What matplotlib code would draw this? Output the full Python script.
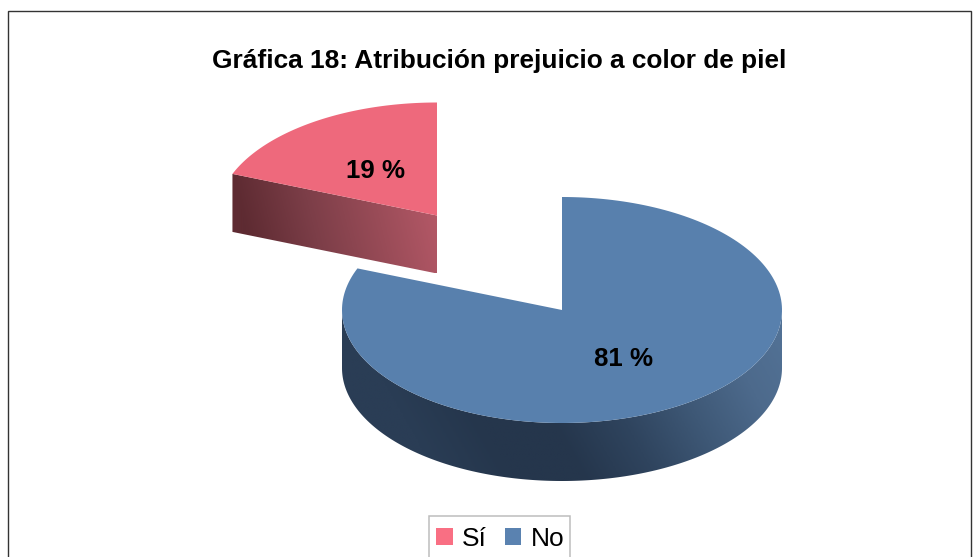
import numpy as np
from matplotlib import pyplot as plt
from matplotlib.colors import LinearSegmentedColormap
from matplotlib.patches import Polygon, Rectangle

plt.rcParams['font.family'] = ['Liberation Sans', 'DejaVu Sans']

categories = ['Sí', 'No']
values = [19, 81]
title = 'Gráfica 18: Atribución prejuicio a color de piel'

# layout in pixels of the picture
W, H = 979, 557
RX, RY, DEPTH = 220, 113, 58
centers = {'Sí': (437, 215.5), 'No': (562, 310)}
top_colors = {'Sí': '#ee697c', 'No': '#5880ad'}
legend_colors = {'Sí': '#f96f83', 'No': '#5a82b0'}

fig = plt.figure(figsize=(W / 100, H / 100), dpi=100)
ax = fig.add_axes([0, 0, 1, 1])
ax.set_xlim(0, W)
ax.set_ylim(H, 0)
ax.axis('off')


# angle is clockwise from 12 o'clock, in degrees
def rim(cx, cy, a1, a2, dy=0):
    t = np.radians(np.linspace(a1, a2, 200))
    return np.column_stack([cx + RX * np.sin(t), cy - RY * np.cos(t) + dy])


def gradient_side(poly, colors, x0, x1, y0, y1, slope):
    cmap = LinearSegmentedColormap.from_list('side', colors)
    xx, yy = np.meshgrid(np.linspace(0, 1, 300), np.linspace(0, 1, 100))
    img = ax.imshow(xx + slope * yy, cmap=cmap, extent=(x0, x1, y1, y0),
                    aspect='auto', zorder=2, vmin=0, vmax=1 + max(slope, 0))
    patch = Polygon(poly, closed=True, facecolor='none', edgecolor='none', zorder=2)
    ax.add_patch(patch)
    img.set_clip_path(patch)


# chart frame, bottom side is cut by the picture
ax.add_patch(Rectangle((8, 11), 963, 570, facecolor='white', edgecolor='#333333',
                       linewidth=1.0, zorder=1))

# slice angles come from the values, first slice (No) starts at 12 o'clock
no_end = 360 * values[1] / sum(values)

# No slice
cx, cy = centers['No']
top = rim(cx, cy, 90, 270)
bottom = rim(cx, cy, 270, 90, DEPTH)
gradient_side(np.vstack([top, bottom]),
              ['#2a3d55', '#25364c', '#25364c', '#2f445e', '#3e5876', '#4d6a8c', '#537397'],
              cx - RX, cx + RX, cy, cy + RY + DEPTH, -0.22)
face = np.vstack([[cx, cy], rim(cx, cy, 0, no_end)])
ax.add_patch(Polygon(face, closed=True, facecolor=top_colors['No'], edgecolor='none', zorder=3))

# Sí slice
cx, cy = centers['Sí']
edge = rim(cx, cy, no_end, no_end)[0]
side = [edge, (cx, cy), (cx, cy + DEPTH), (edge[0], edge[1] + DEPTH)]
gradient_side(side, ['#5e2b32', '#7c3e48', '#9a4c58', '#b85a69'],
              edge[0], cx, edge[1], cy + DEPTH, -0.12)
face = np.vstack([[cx, cy], rim(cx, cy, no_end, 360)])
ax.add_patch(Polygon(face, closed=True, facecolor=top_colors['Sí'], edgecolor='none', zorder=3))

# percent labels sit halfway along the middle of each slice
starts = {'Sí': no_end, 'No': 0}
for name, val in zip(categories, values):
    mid = np.radians(starts[name] + 360 * val / sum(values) / 2)
    x = centers[name][0] + 0.5 * RX * np.sin(mid)
    y = centers[name][1] - 0.5 * RY * np.cos(mid)
    ax.text(x, y + 2, f'{val} %', ha='center', va='center', fontsize=18.6,
            fontweight='bold', color='black', zorder=5)

ax.text(499.5, 61, title, ha='center', va='center', fontsize=18.9, fontweight='bold',
        color='black', zorder=5)

# legend, bottom of its box is cut too
ax.add_patch(Rectangle((429.5, 515.5), 140.5, 60, facecolor='white', edgecolor='#bdbdbd',
                       linewidth=1.1, zorder=5))
handles = [Rectangle((0, 0), 1, 1, facecolor=legend_colors[c], edgecolor='none') for c in categories]
leg = ax.legend(handles, categories, loc='upper center', bbox_to_anchor=(500.5, 527),
                bbox_transform=ax.transData, ncol=2, fontsize=19, frameon=False,
                handlelength=0.62, handleheight=0.62,
                handletextpad=0.36, columnspacing=0.68, borderpad=0, borderaxespad=0)
leg.set_zorder(6)

plt.savefig('out.png', dpi=100)
